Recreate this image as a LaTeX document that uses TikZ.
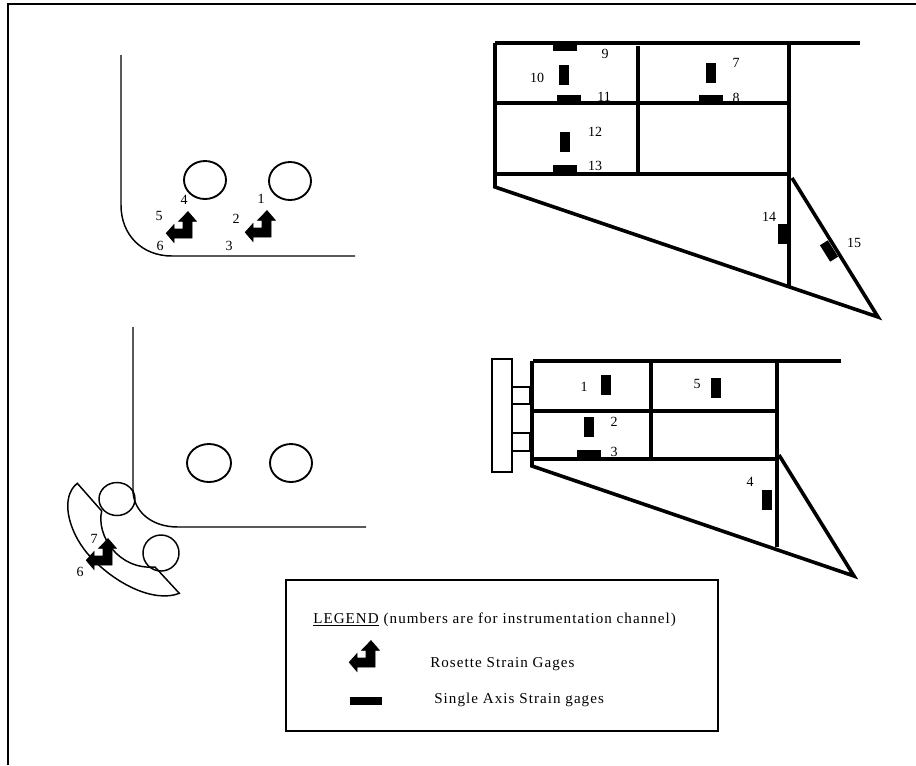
\documentclass[tikz,border=0pt]{standalone}
\usepackage{fontspec}
\setmainfont{Liberation Serif}
\newfontfamily\legendfont[LetterSpace=7]{Liberation Serif}
\usetikzlibrary{positioning}
\tikzset{
thinline/.style={black,line width=1.1pt},
wall/.style={black,line width=2.7pt},
gagev/.style={rectangle,fill=black,inner sep=0pt,minimum width=7pt,minimum height=14.5pt},
gageh/.style={rectangle,fill=black,inner sep=0pt,minimum width=18pt,minimum height=5.5pt},
chan/.style={inner sep=0pt,font=\fontsize{10.5}{11}\selectfont},
legendtext/.style={inner sep=0pt,anchor=west,font=\fontsize{11.3}{12}\legendfont},
pics/rosette/.style={code={%
\filldraw[black,line width=0.6pt] (-4,-26.3) -- (4.3,-16.7) -- (0,-16.7) -- (0,0) -- (-18,0) -- (-18,4.3)
 -- (-25.7,-4.7) -- (-18,-13.3) -- (-18,-9) -- (-9,-9) -- (-9,-16.7) -- (-13.3,-16.7) -- cycle;
}}
}
\begin{document}
\begin{tikzpicture}[x=0.75pt,y=-0.75pt]
\useasboundingbox (0,0) rectangle (916,765);
\fill[white] (0,0) rectangle (916,765);
%frame
\draw[black,line width=1.8pt] (8,765) -- (8,4) -- (916,4);

%upper left
\draw[thinline] (121,55) -- (121,205) .. controls (121,235) and (142,256) .. (172,256) -- (355,256);
\draw[thinline,line width=1.4pt] (205,180) ellipse (21 and 19);
\draw[thinline,line width=1.4pt] (290,181) ellipse (21 and 19);
\pic at (271,237) {rosette};
\pic at (192,238) {rosette};
\node[chan] (u1) at (261,199) {1};
\node[chan] (u2) at (236,219) {2};
\node[chan] (u3) at (229,246) {3};
\node[chan] (u4) at (184,200) {4};
\node[chan] (u5) at (159,216) {5};
\node[chan] (u6) at (160,246) {6};

%lower left
\draw[thinline] (133,327) -- (133,490) .. controls (133,510) and (150,527) .. (178,527) -- (366,527);
\draw[thinline,line width=1.4pt] (209,463) ellipse (22 and 19);
\draw[thinline,line width=1.4pt] (291,463) ellipse (21 and 19);
\draw[thinline] (117,499) ellipse (18 and 16.5);
\draw[thinline] (161,553) ellipse (18 and 18);
%clamp
\draw[thinline] (77.3,483.3) -- (101.7,511) .. controls (96,535) and (118,570) .. (155,567)
 -- (179.3,593.3) .. controls (155,603) and (115,585) .. (87,553)
 .. controls (68,530) and (60,497) .. cycle;
\pic at (112,565) {rosette};
\node[chan] (l7) at (94,539) {7};
\node[chan] (l6) at (80,572) {6};

%upper right
\draw[wall] (495,43) -- (860,43);
\draw[wall] (495,43) -- (495,187) -- (878,317) -- (792,178);
\draw[wall] (495,103) -- (788,103);
\draw[wall] (495,174) -- (789,174);
\draw[wall] (638,46) -- (638,174);
\draw[wall] (789,43) -- (789,287);
\node[gageh] (g9) at (564.5,47.5) {};
\node[gagev] (g10) at (564,75) {};
\node[gageh] (g11) at (569,99) {};
\node[gagev] (g7) at (711,73) {};
\node[gageh] (g8) at (711,99) {};
\node[gagev] (g12) at (565,142) {};
\node[gageh] (g13) at (565,169) {};
\node[gagev] (g14) at (783,234) {};
\node[gagev,rotate=32] (g15) at (829,251) {};
\node[chan] (t9) at (605,54) {9};
\node[chan] (t10) at (537,78) {10};
\node[chan] (t11) at (604,97) {11};
\node[chan] (t7) at (736,63) {7};
\node[chan] (t8) at (736,98) {8};
\node[chan] (t12) at (595,132) {12};
\node[chan] (t13) at (595,166) {13};
\node[chan] (t14) at (769,217) {14};
\node[chan] (t15) at (854,243) {15};

%lower right
\draw[thinline] (492,359) rectangle (512,472);
\draw[thinline] (512,387) rectangle (530,404);
\draw[thinline] (512,433) rectangle (530,451);
\draw[wall] (533,361) -- (841,361);
\draw[wall] (532,361) -- (532,466) -- (854,576) -- (779,455);
\draw[wall] (532,411) -- (777,411);
\draw[wall] (532,459) -- (777,459);
\draw[wall] (651,361) -- (651,459);
\draw[wall] (777,361) -- (777,547);
\node[gagev] (g1) at (606,385) {};
\node[gagev] (g5) at (716,388) {};
\node[gagev] (g2) at (589,427) {};
\node[gageh] (g3) at (589,454) {};
\node[gagev] (g4) at (767,500) {};
\node[chan] (b1) at (584,387) {1};
\node[chan] (b5) at (697,384) {5};
\node[chan] (b2) at (614,422) {2};
\node[chan] (b3) at (614,452) {3};
\node[chan] (b4) at (750,482) {4};

%legend
\draw[thinline,line width=1.4pt] (286,580) rectangle (718,731);
\node[legendtext] (legendhead) at (313,620) {\underline{LEGEND} (numbers are for instrumentation channel)};
\pic at (375,667) {rosette};
\node[legendtext] (rosettetext) at (430,664) {Rosette Strain Gages};
\node[gageh,minimum width=24pt] (legendbar) at (366,701) {};
\node[legendtext] (singletext) at (434,700) {Single Axis Strain gages};
\end{tikzpicture}
\end{document}
